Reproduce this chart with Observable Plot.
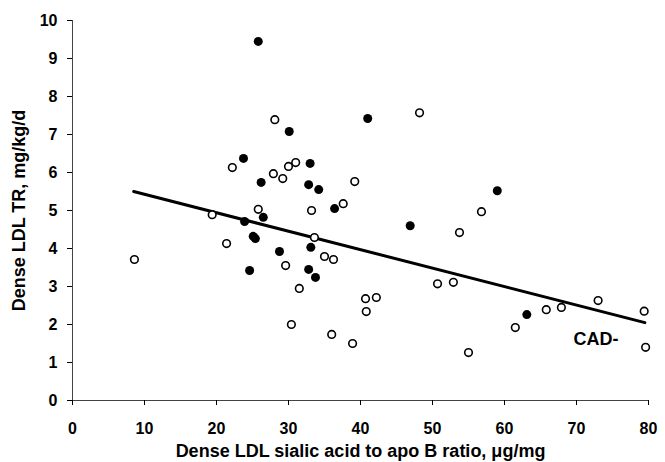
<!DOCTYPE html>
<html><head><meta charset="utf-8">
<script src="https://cdn.jsdelivr.net/npm/d3@7"></script>
<script src="https://cdn.jsdelivr.net/npm/@observablehq/plot@0.6"></script>
<style>html,body{margin:0;padding:0;background:#fff} svg{display:block}</style>
</head><body><div id="chart"></div>
<script>
// CAD+ (filled) points
const filledX = [25.8, 23.75, 30.1, 41.0, 26.2, 33.0, 32.8, 34.2, 36.4, 26.5, 23.9, 25.1, 25.4, 24.6, 28.75, 33.1, 32.8, 33.75, 46.9, 59.0, 63.1];
const filledY = [9.45, 6.37, 7.08, 7.42, 5.74, 6.24, 5.68, 5.55, 5.05, 4.82, 4.71, 4.32, 4.26, 3.42, 3.92, 4.03, 3.45, 3.24, 4.6, 5.52, 2.26];
// CAD- (open) points
const openX = [22.2, 28.1, 27.9, 29.2, 30.0, 31.0, 39.2, 48.2, 56.8, 53.75, 50.7, 52.9, 19.4, 25.8, 21.4, 8.6, 33.6, 33.2, 37.6, 35.0, 36.25, 29.6, 31.5, 40.7, 42.2, 40.8, 30.4, 36.0, 38.9, 55.0, 61.5, 65.8, 67.9, 73.0, 79.4, 79.6];
const openY = [6.13, 7.39, 5.97, 5.84, 6.16, 6.26, 5.76, 7.57, 4.97, 4.42, 3.07, 3.11, 4.89, 5.03, 4.13, 3.71, 4.29, 5.0, 5.18, 3.79, 3.71, 3.55, 2.95, 2.68, 2.71, 2.34, 2.0, 1.74, 1.5, 1.26, 1.92, 2.39, 2.45, 2.63, 2.35, 1.40];
// regression line for CAD-
const fitX = [8.5, 79.5];
const fitY = [5.5, 2.05];
// ticks
const xTicks = [0, 10, 20, 30, 40, 50, 60, 70, 80];
const yTicks = [0, 1, 2, 3, 4, 5, 6, 7, 8, 9, 10];
// annotation
const noteText = ["CAD-"];
const noteX = [69.6];
const noteY = [1.62];
const xLabel = "Dense LDL sialic acid to apo B ratio, \u03bcg/mg";
const yLabel = "Dense LDL TR, mg/kg/d";

const filled = filledX.map((x, i) => ({x, y: filledY[i]}));
const open = openX.map((x, i) => ({x, y: openY[i]}));
const fit = fitX.map((x, i) => ({x, y: fitY[i]}));
const notes = noteText.map((t, i) => ({t, x: noteX[i], y: noteY[i]}));

const chart = Plot.plot({
  width: 665, height: 462,
  marginLeft: 72, marginRight: 17, marginTop: 20, marginBottom: 62,
  x: {domain: [0, 80]},
  y: {domain: [0, 10]},
  style: {fontFamily: "'Liberation Sans', Arial, sans-serif", fontWeight: "bold", color: "#000", background: "#fff"},
  marks: [
    Plot.ruleY([0], {stroke: "#444", strokeWidth: 1}),
    Plot.ruleX([0], {stroke: "#444", strokeWidth: 1}),
    Plot.axisX({ticks: xTicks, tickSize: 5, tickPadding: 17, fontSize: 16, label: null, tickFormat: d => String(d)}),
    Plot.axisY({ticks: yTicks, tickSize: 5, tickPadding: 10, fontSize: 16, label: null, tickFormat: d => String(d)}),
    Plot.line(fit, {x: "x", y: "y", stroke: "#000", strokeWidth: 3}),
    Plot.dot(open, {x: "x", y: "y", r: 3.8, fill: "#fff", stroke: "#000", strokeWidth: 1.6}),
    Plot.dot(filled, {x: "x", y: "y", r: 4.5, fill: "#000", stroke: "none"}),
    Plot.text(notes, {x: "x", y: "y", text: "t", textAnchor: "start", lineAnchor: "middle", fontSize: 18, fontWeight: "bold"}),
    Plot.text([xLabel], {frameAnchor: "bottom", dy: 51, textAnchor: "middle", lineAnchor: "middle", fontSize: 18, fontWeight: "bold"}),
    Plot.text([yLabel], {frameAnchor: "left", dx: -53, rotate: -90, textAnchor: "middle", lineAnchor: "middle", fontSize: 18, fontWeight: "bold"})
  ]
});
document.getElementById("chart").appendChild(chart);
</script>
</body></html>
